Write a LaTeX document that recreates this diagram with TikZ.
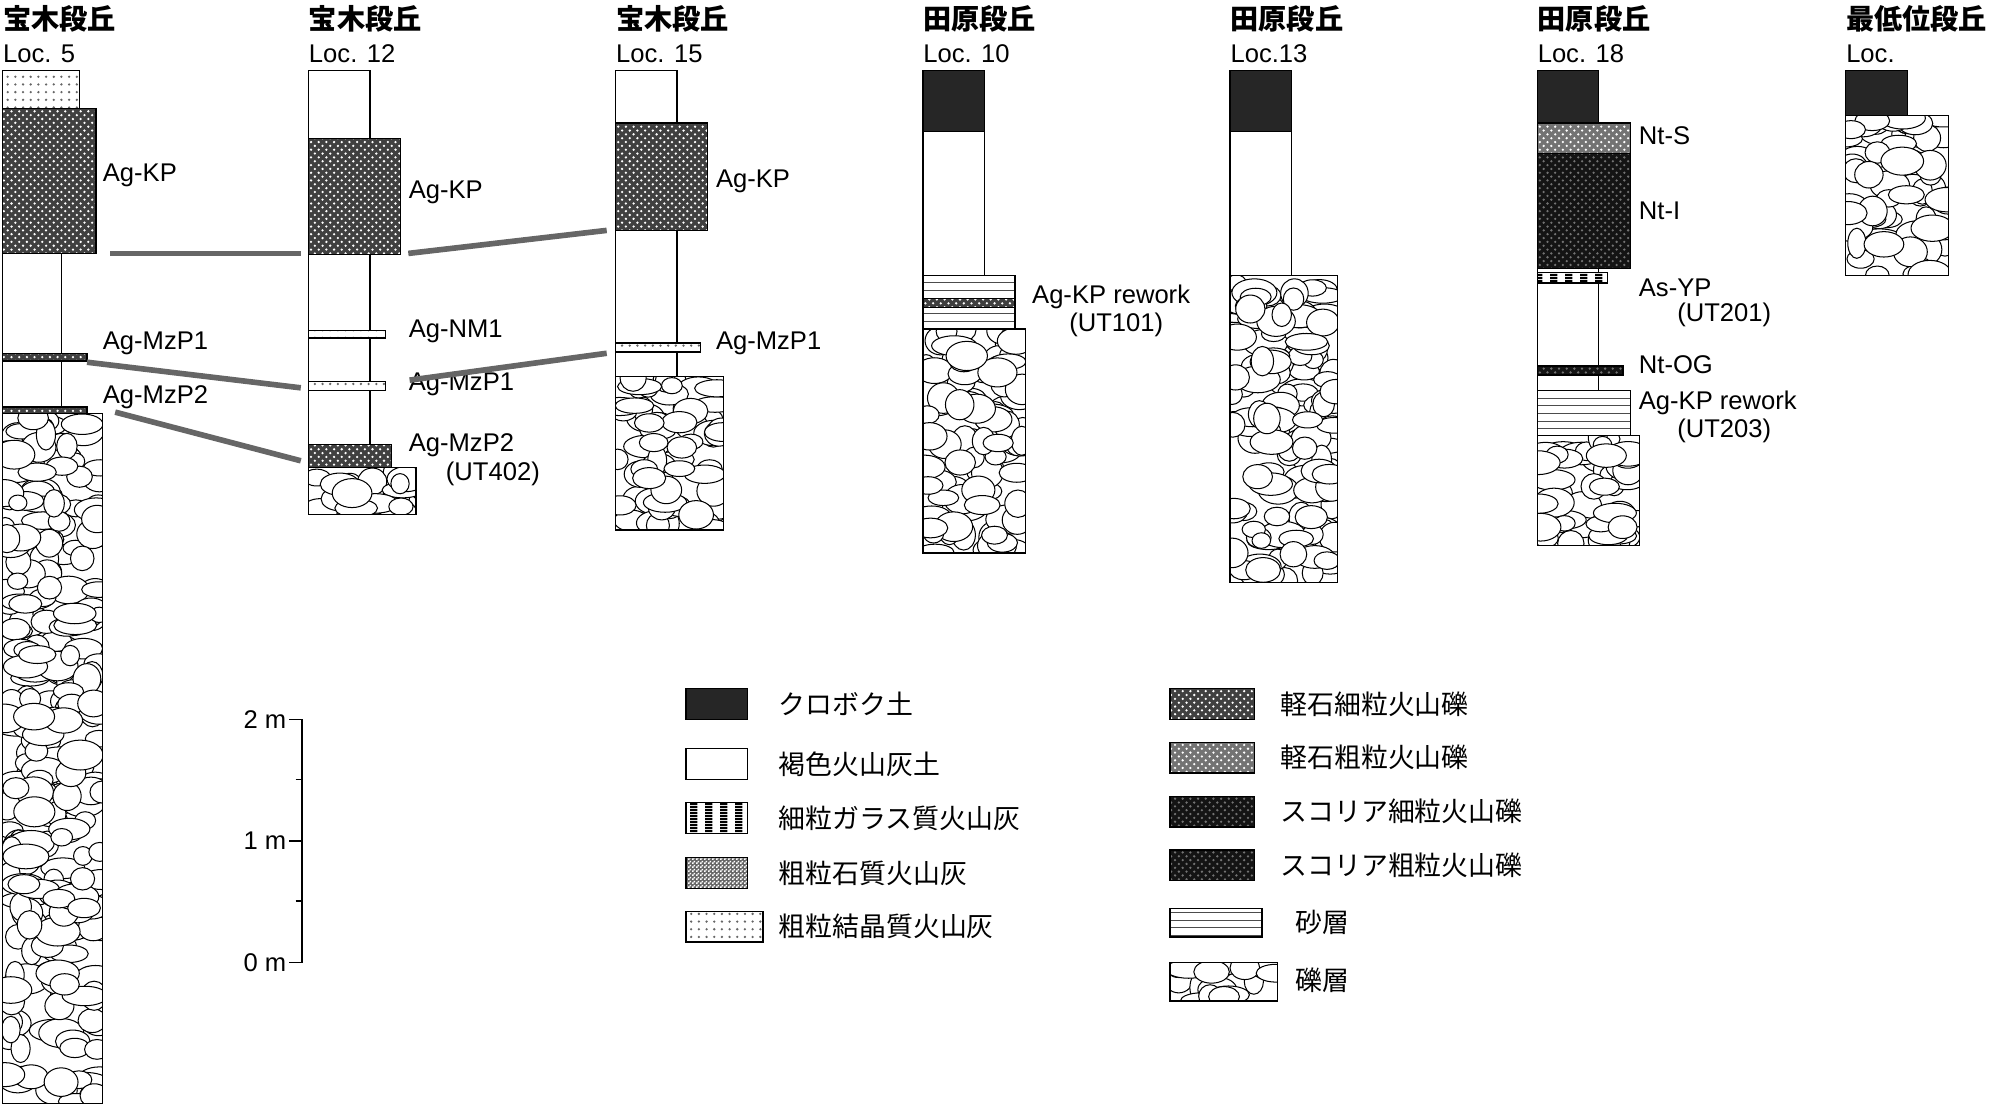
\documentclass[tikz,border=0pt]{standalone}
\usepackage{fontspec}
\setmainfont{Liberation Sans}
\newfontfamily\cjk{Noto Sans CJK JP}
\usetikzlibrary{patterns}
\pgfdeclarepatternformonly{myvstripes}{\pgfpointorigin}{\pgfpoint{6pt}{1pt}}{\pgfpoint{6pt}{1pt}}{\pgfpathrectangle{\pgfpointorigin}{\pgfpoint{3pt}{1pt}}\pgfusepath{fill}}
\pgfdeclarepatternformonly{myfinecheck}{\pgfpointorigin}{\pgfpoint{1.4pt}{1.4pt}}{\pgfpoint{1.4pt}{1.4pt}}{\pgfpathrectangle{\pgfpointorigin}{\pgfpoint{0.7pt}{0.7pt}}\pgfpathrectangle{\pgfpoint{0.7pt}{0.7pt}}{\pgfpoint{0.7pt}{0.7pt}}\pgfusepath{fill}}
\begin{document}
\begin{tikzpicture}[x=0.5pt,y=-0.5pt,
 col/.style={draw=black,line width=0.5pt},
 wh/.style={col,fill=white},
 blk/.style={col,fill=black!85},
 pf/.style={col,preaction={fill=black!75},pattern=crosshatch dots,pattern color=white},
 pc/.style={col,preaction={fill=black!55},pattern=crosshatch dots,pattern color=white},
 sc/.style={col,preaction={fill=black!92},pattern=crosshatch dots,pattern color=black!55},
 cr/.style={col,preaction={fill=white},pattern=dots,pattern color=black!60},
 sd/.style={col,preaction={fill=white},pattern=horizontal lines,pattern color=black!70},
 gl/.style={col,preaction={fill=white},pattern=myvstripes},
 lith/.style={col,preaction={fill=black!60},pattern=myfinecheck,pattern color=white},
 cor/.style={draw=black!60,line width=2.2pt},
 lab/.style={font=\fontsize{10}{10}\selectfont,anchor=west,inner sep=0pt},
 hd/.style={font=\cjk\bfseries\fontsize{11}{11}\selectfont,anchor=west,inner sep=0pt},
 loc/.style={font=\fontsize{10}{10}\selectfont,anchor=west,inner sep=0pt},
 leg/.style={font=\cjk\fontsize{10.5}{10.5}\selectfont,anchor=west,inner sep=0pt}]
\useasboundingbox (0,0) rectangle (1568,870);
\newcommand{\grv}[4]{% x1 y1 x2 y2
 \draw[col,fill=white] (#1,#2) rectangle (#3,#4);
 \begin{scope}
 \clip (#1,#2) rectangle (#3,#4);
 \pgfmathsetseed{#1}
 \pgfmathtruncatemacro{\nn}{((#3-#1)/12)*((#4-#2)/12)}
 \foreach \i in {1,...,\nn}{
  \pgfmathsetmacro{\xx}{#1+rnd*(#3-#1)}
  \pgfmathsetmacro{\yy}{#2+rnd*(#4-#2)}
  \pgfmathsetmacro{\rx}{7+rnd*11}
  \pgfmathsetmacro{\ry}{6+rnd*6}
  \draw[line width=0.4pt,fill=white] (\xx,\yy) ellipse [x radius=\rx*0.5pt,y radius=\ry*0.5pt];}
 \end{scope}
 \draw[col] (#1,#2) rectangle (#3,#4);}
% headers
\foreach \x/\t/\l in {2/宝木段丘/Loc. 5,241/宝木段丘/Loc. 12,481/宝木段丘/Loc. 15,721/田原段丘/Loc. 10,961/田原段丘/Loc.13,1201/田原段丘/Loc. 18,1442/最低位段丘/Loc.}{
 \node[hd] (h\x) at (\x,15) {\t};
 \node[loc] (l\x) at (\x,42) {\l};}
% Loc 5
\draw[cr] (2,55) rectangle (62,85);
\draw[pf] (2,85) rectangle (75,198);
\draw[wh] (2,198) rectangle (48,276);
\draw[pf] (2,276) rectangle (68,282);
\draw[wh] (2,282) rectangle (48,318);
\draw[pf] (2,318) rectangle (68,323);
\grv{2}{323}{80}{862}
\node[lab] (a1) at (80,137) {Ag-KP};
\node[lab] (a2) at (80,268) {Ag-MzP1};
\node[lab] (a3) at (80,310) {Ag-MzP2};
% Loc 12
\draw[wh] (241,55) rectangle (289,108);
\draw[pf] (241,108) rectangle (313,199);
\draw[wh] (241,199) rectangle (289,347);
\draw[cr] (241,258) rectangle (301,264);
\draw[cr] (241,298) rectangle (301,305);
\draw[pf] (241,347) rectangle (306,365);
\grv{241}{365}{325}{402}
\node[lab] (b1) at (319,150) {Ag-KP};
\node[lab] (b2) at (319,259) {Ag-NM1};
\node[lab] (b3) at (319,300) {Ag-MzP1};
\node[lab] (b4) at (319,348) {Ag-MzP2};
\node[lab] (b5) at (348,370) {(UT402)};
% Loc 15
\draw[wh] (481,55) rectangle (529,294);
\draw[pf] (481,96) rectangle (553,180);
\draw[cr] (481,268) rectangle (547,275);
\grv{481}{294}{565}{414}
\node[lab] (c1) at (559,142) {Ag-KP};
\node[lab] (c2) at (559,268) {Ag-MzP1};
% Loc 10
\draw[blk] (721,55) rectangle (769,103);
\draw[wh] (721,103) rectangle (769,215);
\draw[sd] (721,215) rectangle (793,233);
\draw[pf] (721,233) rectangle (793,240);
\draw[sd] (721,240) rectangle (793,257);
\grv{721}{257}{801}{432}
\node[lab] (d1) at (806,232) {Ag-KP rework};
\node[lab] (d2) at (835,254) {(UT101)};
% Loc 13
\draw[blk] (961,55) rectangle (1009,103);
\draw[wh] (961,103) rectangle (1009,215);
\grv{961}{215}{1045}{455}
% Loc 18
\draw[blk] (1201,55) rectangle (1249,96);
\draw[pc] (1201,96) rectangle (1274,120);
\draw[sc] (1201,120) rectangle (1274,210);
\draw[wh] (1201,210) rectangle (1249,305);
\draw[gl] (1201,213) rectangle (1256,221);
\draw[sc] (1201,286) rectangle (1268,293);
\draw[sd] (1201,305) rectangle (1274,340);
\grv{1201}{340}{1281}{426}
\node[lab] (e1) at (1280,106) {Nt-S};
\node[lab] (e2) at (1280,165) {Nt-I};
\node[lab] (e3) at (1280,225) {As-YP};
\node[lab] (e4) at (1310,246) {(UT201)};
\node[lab] (e5) at (1280,285) {Nt-OG};
\node[lab] (e6) at (1280,315) {Ag-KP rework};
\node[lab] (e7) at (1310,337) {(UT203)};
% Last
\draw[blk] (1442,55) rectangle (1490,90);
\grv{1442}{90}{1522}{215}
% correlation
\coordinate (k1) at (86,198); \coordinate (k2) at (235,198);
\coordinate (k3) at (319,198); \coordinate (k4) at (474,180);
\coordinate (m1) at (68,283); \coordinate (m2) at (235,303);
\coordinate (m3) at (320,297); \coordinate (m4) at (474,276);
\coordinate (n1) at (90,322); \coordinate (n2) at (235,360);
\draw[cor] (k1)--(k2); \draw[cor] (k3)--(k4);
\draw[cor] (m1)--(m2); \draw[cor] (m3)--(m4);
\draw[cor] (n1)--(n2);
% scale
\coordinate (s0) at (236,562); \coordinate (s1) at (236,752);
\draw[line width=0.5pt] (s0)--(s1);
\foreach \y in {562,657,752} \draw[line width=0.5pt] (226,\y)--(236,\y);
\foreach \y in {609,704} \draw[line width=0.5pt] (231,\y)--(236,\y);
\node[lab,anchor=east] (t2) at (224,562) {2 m};
\node[lab,anchor=east] (t1) at (224,657) {1 m};
\node[lab,anchor=east] (t0) at (224,752) {0 m};
% legend
\draw[blk] (536,538) rectangle (584,562); \node[leg] (L1) at (608,550) {クロボク土};
\draw[wh] (536,585) rectangle (584,609); \node[leg] (L2) at (608,597) {褐色火山灰土};
\draw[gl] (536,627) rectangle (584,651); \node[leg] (L3) at (608,639) {細粒ガラス質火山灰};
\draw[lith] (536,670) rectangle (584,694); \node[leg] (L4) at (608,682) {粗粒石質火山灰};
\draw[cr] (536,712) rectangle (596,736); \node[leg] (L5) at (608,724) {粗粒結晶質火山灰};
\draw[pf] (914,538) rectangle (980,562); \node[leg] (R1) at (1000,550) {軽石細粒火山礫};
\draw[pc] (914,580) rectangle (980,604); \node[leg] (R2) at (1000,592) {軽石粗粒火山礫};
\draw[sc] (914,622) rectangle (980,646); \node[leg] (R3) at (1000,634) {スコリア細粒火山礫};
\draw[sc] (914,664) rectangle (980,688); \node[leg] (R4) at (1000,676) {スコリア粗粒火山礫};
\draw[sd] (914,710) rectangle (986,732); \node[leg] (R5) at (1012,721) {砂層};
\grv{914}{752}{998}{782}
\node[leg] (R6) at (1012,766) {礫層};
\end{tikzpicture}
\end{document}
